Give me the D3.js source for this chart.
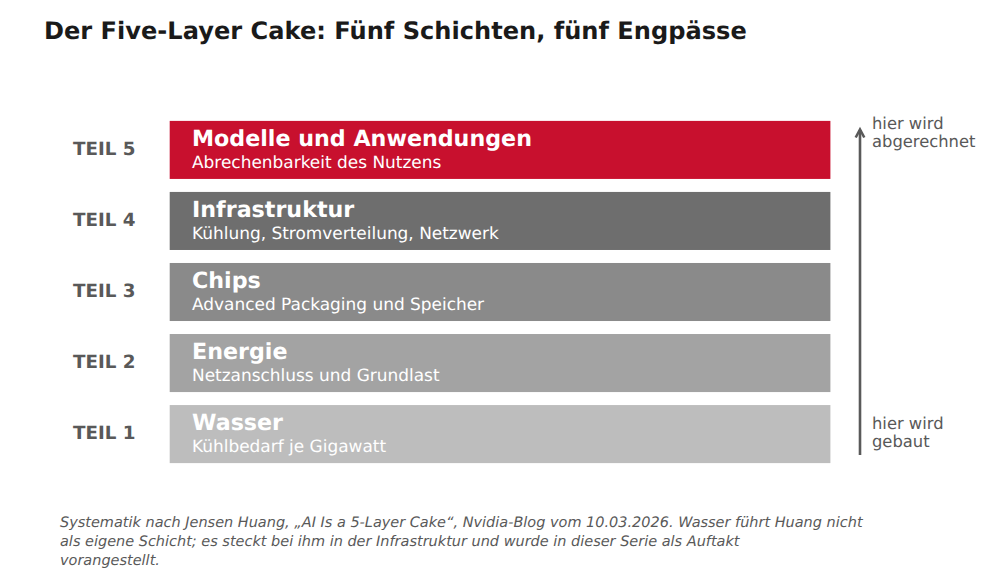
<!DOCTYPE html>
<html>
<head>
<meta charset="utf-8">
<script src="https://cdn.jsdelivr.net/npm/d3@7"></script>
<style>
  body { margin: 0; background: #fff; }
  text { font-family: "DejaVu Sans", sans-serif; text-rendering: geometricPrecision; }
</style>
</head>
<body>
<div id="chart-area"></div>
<script>
var width = 1000;
var height = 583;

// bottom to top
var teile = ["TEIL 1", "TEIL 2", "TEIL 3", "TEIL 4", "TEIL 5"];
var schichten = ["Wasser", "Energie", "Chips", "Infrastruktur", "Modelle und Anwendungen"];
var engpaesse = ["Kühlbedarf je Gigawatt", "Netzanschluss und Grundlast", "Advanced Packaging und Speicher", "Kühlung, Stromverteilung, Netzwerk", "Abrechenbarkeit des Nutzens"];
var farben = ["#bdbdbd", "#a3a3a3", "#8a8a8a", "#6e6e6e", "#c8102e"];
var fussnote = [
    "Systematik nach Jensen Huang, „AI Is a 5-Layer Cake“, Nvidia-Blog vom 10.03.2026. Wasser führt Huang nicht",
    "als eigene Schicht; es steckt bei ihm in der Infrastruktur und wurde in dieser Serie als Auftakt",
    "vorangestellt."
];

var svg = d3.select("#chart-area")
    .append("svg")
    .attr("width", width)
    .attr("height", height)
    .style("display", "block");

var y = d3.scaleBand()
    .domain(teile)
    .range([469.5, 114.5])
    .paddingInner(0.183)
    .paddingOuter(0.09);

var x = 169.7, w = 660.7;

svg.append("text")
    .attr("x", 44).attr("y", 39)
    .attr("font-size", 24.1).attr("font-weight", "bold").attr("fill", "#1a1a1a")
    .text("Der Five-Layer Cake: Fünf Schichten, fünf Engpässe");

var zeile = svg.selectAll("g.schicht")
    .data(teile)
    .enter()
    .append("g")
    .attr("class", "schicht");

zeile.append("rect")
    .attr("x", x)
    .attr("y", function(d) { return y(d); })
    .attr("width", w)
    .attr("height", y.bandwidth())
    .attr("fill", function(d, i) { return farben[i]; });

zeile.append("text")
    .attr("x", 135.5)
    .attr("y", function(d) { return y(d) + 34.3; })
    .attr("text-anchor", "end")
    .attr("font-size", 18.3).attr("font-weight", "bold").attr("fill", "#595959")
    .text(function(d) { return d; });

zeile.append("text")
    .attr("x", 192)
    .attr("y", function(d) { return y(d) + 25; })
    .attr("font-size", 22.2).attr("font-weight", "bold").attr("fill", "#ffffff")
    .text(function(d, i) { return schichten[i]; });

zeile.append("text")
    .attr("x", 192)
    .attr("y", function(d) { return y(d) + 47.3; })
    .attr("font-size", 16.95).attr("fill", "#ffffff")
    .text(function(d, i) { return engpaesse[i]; });

// Pfeil
svg.append("line")
    .attr("x1", 860).attr("x2", 860)
    .attr("y1", 455).attr("y2", 130)
    .attr("stroke", "#595959").attr("stroke-width", 2.6);
svg.append("path")
    .attr("d", d3.line()([[855.7, 137.5], [860, 129.5], [864.3, 137.5]]))
    .attr("fill", "none")
    .attr("stroke", "#595959").attr("stroke-width", 2.6);

var seite = svg.append("g").attr("font-size", 16.35).attr("fill", "#595959");
[["hier wird", 129], ["abgerechnet", 147], ["hier wird", 429], ["gebaut", 447]].forEach(function(t) {
    seite.append("text").attr("x", 872).attr("y", t[1]).text(t[0]);
});

svg.append("g")
    .selectAll("text")
    .data(fussnote)
    .enter()
    .append("text")
    .attr("x", 60)
    .attr("y", function(d, i) { return 527 + i * 19; })
    .attr("font-size", 14.48).attr("font-style", "italic").attr("fill", "#595959")
    .text(function(d) { return d; });
</script>
</body>
</html>
